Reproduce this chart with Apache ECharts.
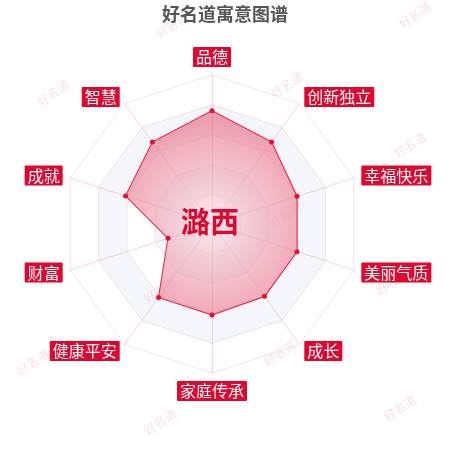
<!DOCTYPE html>
<html>
<head>
<meta charset="utf-8">
<script src="https://cdn.jsdelivr.net/npm/echarts@6/dist/echarts.min.js"></script>
<style>
  html, body { margin: 0; padding: 0; background: #fff; }
  #chart { width: 450px; height: 450px; }
</style>
</head>
<body>
<div id="chart"></div>
<script>
// 指标（逆时针，从顶部开始）
const indicators = ["品德", "智慧", "成就", "财富", "健康平安", "家庭传承", "成长", "美丽气质", "幸福快乐", "创新独立"];
const values = [76, 68, 61, 31, 61, 61, 60, 60, 60, 68];
const maxValue = 100;
const nameText = "潞西";
const titleText = "好名道寓意图谱";
const watermark = "好名道";

window.addEventListener("DOMContentLoaded", () => {
  const chart = echarts.init(document.getElementById("chart"), null, { renderer: "canvas" });

  // 水印位置
  const marks = [
    [53, 93], [172, 25], [287, 85], [415, 15], [410, 145], [285, 215],
    [160, 290], [33, 362], [392, 282], [280, 353], [160, 422], [400, 408]
  ].map(([x, y]) => ({
    type: "text",
    x, y,
    rotation: 0.6,
    z: -10,
    silent: true,
    style: {
      text: watermark,
      fill: "rgba(215,120,140,0.22)",
      font: "12px 'Noto Sans CJK SC'",
      align: "center",
      verticalAlign: "middle"
    }
  }));

  chart.setOption({
    backgroundColor: "#fff",
    animation: false,
    title: {
      text: titleText,
      left: "center",
      top: 0,
      textStyle: { color: "#555", fontSize: 18, fontWeight: "bold", fontFamily: "Noto Sans CJK SC" }
    },
    radar: {
      center: [212, 224],
      radius: 149,
      splitNumber: 5,
      shape: "polygon",
      nameGap: 8,
      indicator: indicators.map((n) => ({ name: n, max: maxValue })),
      axisName: {
        color: "#fff",
        backgroundColor: "#e2062e",
        fontSize: 16,
        fontFamily: "Noto Sans CJK SC",
        padding: [2, 3],
        borderRadius: 1
      },
      axisLine: { lineStyle: { color: "rgba(230,160,178,0.45)" } },
      splitLine: { lineStyle: { color: "rgba(232,205,215,0.55)" } },
      splitArea: {
        areaStyle: { color: ["rgba(250,250,250,0.2)", "rgba(210,219,238,0.25)"] }
      }
    },
    series: [
      {
        type: "radar",
        symbol: "circle",
        symbolSize: 5,
        data: [{ value: values, name: nameText }],
        lineStyle: { color: "#e5102e", width: 1.2 },
        itemStyle: { color: "#e5102e" },
        areaStyle: {
          color: new echarts.graphic.RadialGradient(0.5, 0.55, 0.6, [
            { offset: 0, color: "rgba(246,220,228,0.9)" },
            { offset: 1, color: "rgba(232,108,134,0.9)" }
          ])
        }
      }
    ],
    graphic: marks.concat([
      {
        type: "text",
        x: 210,
        y: 222,
        z: 100,
        style: {
          text: nameText,
          fill: "#e0062d",
          font: "bold 29px 'Noto Sans CJK SC'",
          align: "center",
          verticalAlign: "middle"
        }
      }
    ])
  });

  window.addEventListener("resize", () => chart.resize());
});
</script>
</body>
</html>
